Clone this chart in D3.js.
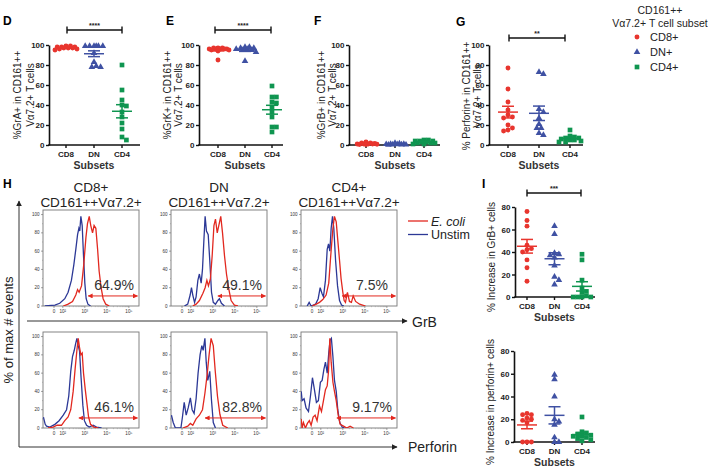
<!DOCTYPE html>
<html><head><meta charset="utf-8">
<script src="https://cdn.jsdelivr.net/npm/d3@7"></script>
<style>
body{margin:0;background:#fff;}
svg{display:block;font-family:Arial,"Liberation Sans",Helvetica,sans-serif;}
</style></head><body>
<svg id="c" width="708" height="469"></svg>
<script>
// ---------- DATA ----------
const subsets = ["CD8", "DN", "CD4"];
const legendSubsets = ["CD8+", "DN+", "CD4+"];
const ticks100 = [0, 20, 40, 60, 80, 100];
const ticks80 = [0, 20, 40, 60, 80];

// D: %GrA+
const graCD8 = [98, 97, 99, 96, 98, 97, 95, 99, 98, 96, 97];
const graDN  = [99, 99, 99, 99, 99, 99, 92, 83, 78, 78, 79];
const graCD4 = [80, 55, 45, 40, 39, 33, 28, 22, 16, 5, 8];
// E: %GrK+
const grkCD8 = [97, 96, 95, 96, 97, 95, 96, 94, 96, 97, 85, 96];
const grkDN  = [98, 97, 97, 98, 96, 95, 96, 93, 95, 84];
const grkCD4 = [59, 48, 48, 42, 43, 38, 33, 28, 18, 18, 13];
// F: %GrB+
const grbCD8 = [1, 2, 0.5, 1, 3, 1, 0.5, 2, 1, 1.5, 0.8];
const grbDN  = [0.5, 1, 0.3, 1.5, 0.8, 0.2, 1, 0.5, 2, 0.6];
const grbCD4 = [3, 4, 2, 5, 1, 4, 3, 2, 5, 1, 4, 2];
// G: %Perforin+
const perfCD8 = [77, 56, 43, 35, 30, 28, 27, 20, 17, 14, 15];
const perfDN  = [73, 71, 36, 33, 27, 21, 17, 17, 12, 10];
const perfCD4 = [15, 9, 8, 7, 7, 6, 5, 5, 4, 3, 3];
// I: % increase
const incGrbCD8 = [76, 68, 63, 46, 43, 42, 40, 33, 26, 14];
const incGrbDN  = [63, 56, 39, 38, 37, 35, 28, 18, 15, 11];
const incGrbCD4 = [38, 33, 15, 8, 5, 4, 1, 0, 0, 0, 0];
const incPerfCD8 = [25, 24, 24, 21, 20, 19, 17, 0, 0, 0];
const incPerfDN  = [59, 55, 40, 20, 18, 15, 4, 0, 0];
const incPerfCD4 = [22, 9, 8, 7, 6, 5, 5, 4, 3, 2, 1];

// H: histograms, [log10 position, % of max]
const hGrbCD8Ecoli = [[2.02,0],[2.24,2],[2.44,5],[2.59,12],[2.67,18],[2.74,15],[2.85,22],[2.95,45],[3.05,75],[3.12,90],[3.20,98],[3.27,88],[3.35,80],[3.42,88],[3.50,85],[3.58,62],[3.65,38],[3.74,20],[3.83,8],[3.95,2],[4.11,0]];
const hGrbCD8Unstim = [[1.18,0],[1.64,1],[1.86,3],[2.09,8],[2.24,15],[2.39,28],[2.50,45],[2.59,62],[2.67,78],[2.73,85],[2.77,82],[2.82,98],[2.88,88],[2.94,55],[3.00,25],[3.06,8],[3.14,2],[3.26,0]];
const hGrbDNEcoli = [[2.09,0],[2.24,2],[2.39,6],[2.55,14],[2.65,20],[2.73,28],[2.80,22],[2.89,30],[2.97,55],[3.05,88],[3.12,95],[3.20,80],[3.27,88],[3.36,98],[3.44,80],[3.53,55],[3.62,35],[3.73,18],[3.83,6],[3.98,1],[4.14,0]];
const hGrbDNUnstim = [[1.71,0],[1.86,2],[1.97,12],[2.03,20],[2.09,12],[2.17,4],[2.24,10],[2.32,28],[2.39,35],[2.47,25],[2.53,40],[2.59,70],[2.65,98],[2.71,82],[2.79,78],[2.86,50],[2.94,15],[3.02,4],[3.12,2],[3.23,6],[3.30,8],[3.39,3],[3.53,0]];
const hGrbCD4Ecoli = [[1.61,0],[1.79,2],[1.94,4],[2.09,7],[2.24,12],[2.36,25],[2.45,55],[2.55,85],[2.62,98],[2.70,92],[2.77,72],[2.85,50],[2.92,30],[3.00,15],[3.06,6],[3.12,4],[3.21,15],[3.30,5],[3.39,4],[3.47,11],[3.58,5],[3.76,2],[4.03,0]];
const hGrbCD4Unstim = [[1.38,0],[1.47,4],[1.56,0],[1.76,2],[1.88,8],[1.97,20],[2.05,14],[2.12,10],[2.21,28],[2.29,62],[2.35,68],[2.41,60],[2.47,85],[2.53,98],[2.59,85],[2.67,50],[2.76,22],[2.85,6],[2.94,1],[3.05,0]];
const hPerfCD8Ecoli = [[1.33,0],[1.56,1],[1.74,3],[1.94,3],[2.09,8],[2.24,12],[2.36,20],[2.47,40],[2.56,65],[2.64,85],[2.70,98],[2.76,88],[2.82,80],[2.88,82],[2.94,60],[3.02,42],[3.09,28],[3.17,12],[3.26,4],[3.41,1],[3.61,0]];
const hPerfCD8Unstim = [[1.12,12],[1.2,4],[1.26,2],[1.41,1],[1.64,4],[1.83,8],[2.02,14],[2.17,20],[2.27,35],[2.36,62],[2.44,78],[2.52,85],[2.58,92],[2.64,98],[2.70,90],[2.76,84],[2.83,55],[2.91,25],[2.98,8],[3.08,3],[3.20,1],[3.38,3],[3.53,1],[3.76,0]];
const hPerfDNEcoli = [[1.64,0],[1.86,2],[1.98,5],[2.09,3],[2.24,10],[2.39,14],[2.53,20],[2.64,38],[2.74,58],[2.83,80],[2.92,98],[3.02,90],[3.11,62],[3.21,35],[3.32,15],[3.45,3],[3.68,0]];
const hPerfDNUnstim = [[1.12,14],[1.2,6],[1.3,0],[1.55,0],[1.62,12],[1.70,28],[1.79,14],[1.88,22],[1.98,33],[2.06,20],[2.15,16],[2.24,32],[2.33,60],[2.42,80],[2.50,90],[2.56,85],[2.64,98],[2.70,72],[2.77,52],[2.86,62],[2.94,30],[3.02,6],[3.12,0]];
const hPerfCD4Ecoli = [[1.11,10],[1.15,0],[1.21,6],[1.30,0],[1.39,5],[1.48,8],[1.56,3],[1.65,12],[1.74,14],[1.83,8],[1.94,24],[2.03,18],[2.12,30],[2.21,42],[2.29,46],[2.35,62],[2.41,98],[2.47,72],[2.55,50],[2.62,40],[2.70,30],[2.79,14],[2.88,4],[3.03,2],[3.18,0],[3.33,2],[3.48,0]];
const hPerfCD4Unstim = [[1.11,40],[1.15,30],[1.24,32],[1.33,22],[1.44,18],[1.53,35],[1.62,55],[1.71,42],[1.80,28],[1.89,30],[1.98,50],[2.06,52],[2.14,64],[2.21,72],[2.29,60],[2.36,82],[2.42,96],[2.48,98],[2.55,78],[2.62,52],[2.70,40],[2.77,20],[2.86,6],[2.97,1],[3.08,0]];

const histTitles = [["CD8+", "CD161++V\u03b17.2+"], ["DN", "CD161++V\u03b17.2+"], ["CD4+", "CD161++V\u03b17.2+"]];
const grbPct = ["64.9%", "49.1%", "7.5%"];
const perfPct = ["46.1%", "82.8%", "9.17%"];
const grbGate = [3.15, 3.23, 2.97];
const perfGate = [2.73, 2.65, 2.73];
const histXTicks = [[1.6, "0"], [2, "10\u00b2"], [3, "10\u00b3"], [4, "10\u2074"], [5, "10\u2075"]];

// ---------- STYLE ----------
const svg = d3.select("#c");
const RED = "#e8352e", BLUE = "#3f51a3", GREEN = "#0f9550";
const HRED = "#e2281f", HBLUE = "#2c3896";
const gColors = [RED, BLUE, GREEN];
const gShapes = [d3.symbolCircle, d3.symbolTriangle, d3.symbolSquare];
const gSizes = [19, 19, 22];

// beeswarm-like horizontal spread limited to +/- maxSpread
function swarm(ys, d, maxSpread) {
  const order = d3.range(ys.length).sort((a, b) => ys[a] - ys[b]);
  const placed = [], xs = [];
  const step = d * 0.5;
  const cands = [0];
  for (let k = 1; k * step <= maxSpread; k++) { cands.push(k * step, -k * step); }
  order.forEach(i => {
    let best = null, bestScore = -1;
    for (const off of cands) {
      const md = placed.length ? d3.min(placed, p => Math.hypot(p[0] - off, p[1] - ys[i])) : Infinity;
      if (md >= d) { best = off; break; }
      if (md > bestScore) { bestScore = md; best = off; }
    }
    xs[i] = best; placed.push([best, ys[i]]);
  });
  return xs;
}

function dotPanel(cfg) {
  const g = svg.append("g");
  const y = d3.scaleLinear().domain([0, cfg.max]).range([cfg.yBot, cfg.yTop]);
  const x = d3.scalePoint().domain(subsets).range(cfg.cats);
  const ya = g.append("g").attr("transform", `translate(${cfg.x0},0)`)
    .call(d3.axisLeft(y).tickValues(cfg.ticks).tickSize(3).tickSizeOuter(0).tickPadding(1.5));
  ya.select(".domain").attr("stroke-width", 1.6).attr("stroke", "#111");
  ya.selectAll(".tick line").attr("stroke-width", 1.4).attr("stroke", "#111");
  ya.selectAll("text").attr("font-size", 8).attr("font-weight", "bold").attr("fill", "#222");
  // x axis
  g.append("line").attr("x1", cfg.x0 - 0.8).attr("x2", cfg.x1).attr("y1", cfg.yBot).attr("y2", cfg.yBot)
    .attr("stroke", "#111").attr("stroke-width", 1.6);
  subsets.forEach(s => {
    g.append("line").attr("x1", x(s)).attr("x2", x(s)).attr("y1", cfg.yBot).attr("y2", cfg.yBot + 3)
      .attr("stroke", "#111").attr("stroke-width", 1.4);
    g.append("text").attr("x", x(s)).attr("y", cfg.yBot + 12).attr("text-anchor", "middle")
      .attr("font-size", 8).attr("font-weight", "bold").attr("fill", "#222").text(s);
  });
  g.append("text").attr("x", (cfg.cats[0] + cfg.cats[1]) / 2).attr("y", cfg.yBot + 24)
    .attr("text-anchor", "middle").attr("font-size", 10.5).attr("font-weight", "bold").attr("fill", "#333").text("Subsets");
  // y title
  cfg.title.forEach((t, i) => {
    g.append("text").attr("transform", `translate(${cfg.titleX[i]},${cfg.titleY}) rotate(-90)`)
      .attr("text-anchor", "middle").attr("font-size", 10).attr("fill", "#222").text(t);
  });
  // series
  cfg.series.forEach((vals, gi) => {
    const cx = x(subsets[gi]);
    const ys = vals.map(v => y(v));
    const xs = swarm(ys, 4.4, 11);
    const col = gColors[gi];
    const sym = d3.symbol().type(gShapes[gi]).size(gSizes[gi]);
    g.selectAll(null).data(vals).join("path")
      .attr("d", sym).attr("fill", col)
      .attr("transform", (d, i) => `translate(${cx + xs[i]},${ys[i]})`);
    const m = d3.mean(vals), sem = d3.deviation(vals) / Math.sqrt(vals.length);
    g.append("line").attr("x1", cx - 10).attr("x2", cx + 10).attr("y1", y(m)).attr("y2", y(m)).attr("stroke", col).attr("stroke-width", 1.5);
    g.append("line").attr("x1", cx).attr("x2", cx).attr("y1", y(m - sem)).attr("y2", y(m + sem)).attr("stroke", col).attr("stroke-width", 1.5);
    [m - sem, m + sem].forEach(v => g.append("line").attr("x1", cx - 6).attr("x2", cx + 6).attr("y1", y(v)).attr("y2", y(v)).attr("stroke", col).attr("stroke-width", 1.5));
  });
  if (cfg.sig) {
    const [a, b, yy, stars] = cfg.sig;
    g.append("line").attr("x1", a).attr("x2", b).attr("y1", yy).attr("y2", yy).attr("stroke", "#111").attr("stroke-width", 1.6);
    [a, b].forEach(xx => g.append("line").attr("x1", xx).attr("x2", xx).attr("y1", yy - 3.5).attr("y2", yy + 3.5).attr("stroke", "#111").attr("stroke-width", 1.4));
    g.append("text").attr("x", (a + b) / 2).attr("y", yy - 2).attr("text-anchor", "middle").attr("font-size", 7).attr("font-weight", "bold").attr("fill", "#222").text(stars);
  }
  if (cfg.letter) {
    svg.append("text").attr("x", cfg.letter[0]).attr("y", cfg.letter[1]).attr("font-size", 12).attr("font-weight", "bold").text(cfg.letter[2]);
  }
}

dotPanel({x0: 49, x1: 140, cats: [66, 122], yTop: 45, yBot: 145, max: 100, ticks: ticks100,
  series: [graCD8, graDN, graCD4], title: ["%GrA+ in CD161++", "V\u03b17.2+ T cells"], titleX: [21, 34], titleY: 95,
  sig: [67, 122, 30, "****"], letter: [3, 25, "D"]});
dotPanel({x0: 199, x1: 283, cats: [218, 272], yTop: 45, yBot: 145, max: 100, ticks: ticks100,
  series: [grkCD8, grkDN, grkCD4], title: ["%GrK+ in CD161++", "V\u03b17.2+ T cells"], titleX: [171, 182], titleY: 95,
  sig: [215, 271, 30, "****"], letter: [166, 25, "E"]});
dotPanel({x0: 349, x1: 440, cats: [366, 424], yTop: 45, yBot: 145, max: 100, ticks: ticks100,
  series: [grbCD8, grbDN, grbCD4], title: ["%GrB+ in CD161++", "V\u03b17.2+ T cells"], titleX: [325, 336], titleY: 95,
  letter: [314, 25, "F"]});
dotPanel({x0: 489, x1: 583, cats: [508, 570], yTop: 45, yBot: 145, max: 100, ticks: ticks100,
  series: [perfCD8, perfDN, perfCD4], title: ["% Perforin+ in CD161++", "V\u03b17.2+ T cells"], titleX: [470, 481], titleY: 96,
  sig: [509, 565, 38, "**"], letter: [456, 26, "G"]});
dotPanel({x0: 515, x1: 595, cats: [527, 582], yTop: 207, yBot: 297, max: 80, ticks: ticks80,
  series: [incGrbCD8, incGrbDN, incGrbCD4], title: ["% Increase in GrB+ cells"], titleX: [495], titleY: 257,
  sig: [527, 581, 193, "***"], letter: [482, 188, "I"]});
dotPanel({x0: 514, x1: 595, cats: [527, 582], yTop: 351, yBot: 442, max: 80, ticks: ticks80,
  series: [incPerfCD8, incPerfDN, incPerfCD4], title: ["% Increase in perforin+ cells"], titleX: [494], titleY: 402});

// legend (top right)
const lg = svg.append("g");
lg.append("text").attr("x", 660).attr("y", 14).attr("text-anchor", "middle").attr("font-size", 10.5).attr("fill", "#222").text("CD161++");
lg.append("text").attr("x", 660).attr("y", 27).attr("text-anchor", "middle").attr("font-size", 10.5).attr("fill", "#222").text("V\u03b17.2+ T cell subset");
legendSubsets.forEach((s, i) => {
  const yy = 37 + i * 15;
  lg.append("path").attr("d", d3.symbol().type(gShapes[i]).size(gSizes[i])()).attr("fill", gColors[i]).attr("transform", `translate(637,${yy})`);
  lg.append("text").attr("x", 650).attr("y", yy + 4).attr("font-size", 11).attr("fill", "#222").text(s);
});

// ---------- H: histograms ----------
svg.append("text").attr("x", 3).attr("y", 188).attr("font-size", 12).attr("font-weight", "bold").text("H");
const defs = svg.append("defs");
defs.append("marker").attr("id", "ra").attr("viewBox", "0 0 10 10").attr("refX", 9).attr("refY", 5)
  .attr("markerWidth", 5).attr("markerHeight", 5).attr("orient", "auto-start-reverse")
  .append("path").attr("d", "M0,0L10,5L0,10z").attr("fill", HRED);
defs.append("marker").attr("id", "ka").attr("viewBox", "0 0 10 10").attr("refX", 9).attr("refY", 5)
  .attr("markerWidth", 6).attr("markerHeight", 6).attr("orient", "auto")
  .append("path").attr("d", "M0,0L10,5L0,10z").attr("fill", "#222");

const colX = [43, 171, 301], rowY = [210, 332], bw = 96, bh = 96;
const hx = d3.scaleLinear().domain([1.1, 5.46]).range([0, bw]);
const hy = d3.scaleLinear().domain([0, 105]).range([bh, 0]);
const hline = d3.line().x(d => hx(d[0])).y(d => hy(d[1]));
const hists = [
  [[hGrbCD8Ecoli, hGrbCD8Unstim], [hGrbDNEcoli, hGrbDNUnstim], [hGrbCD4Ecoli, hGrbCD4Unstim]],
  [[hPerfCD8Ecoli, hPerfCD8Unstim], [hPerfDNEcoli, hPerfDNUnstim], [hPerfCD4Ecoli, hPerfCD4Unstim]]
];
const pcts = [grbPct, perfPct], gates = [grbGate, perfGate];

histTitles.forEach((t, c) => {
  const cx = colX[c] + bw / 2;
  svg.append("text").attr("x", cx).attr("y", 192).attr("text-anchor", "middle").attr("font-size", 13.5).attr("fill", "#222").text(t[0]);
  svg.append("text").attr("x", cx).attr("y", 207).attr("text-anchor", "middle").attr("font-size", 13.5).attr("fill", "#222").text(t[1]);
});

rowY.forEach((ry, r) => {
  colX.forEach((cx, c) => {
    const g = svg.append("g").attr("transform", `translate(${cx},${ry})`);
    const clipId = `clip${r}${c}`;
    defs.append("clipPath").attr("id", clipId).append("rect").attr("x", 0).attr("y", -2).attr("width", bw).attr("height", bh + 2);
    g.append("rect").attr("width", bw).attr("height", bh).attr("fill", "none").attr("stroke", "#777").attr("stroke-width", 0.9);
    // y ticks
    ticks100.forEach(v => {
      g.append("line").attr("x1", -2).attr("x2", 0).attr("y1", hy(v)).attr("y2", hy(v)).attr("stroke", "#666").attr("stroke-width", 0.6);
      g.append("text").attr("x", -3.5).attr("y", hy(v) + 1.6).attr("text-anchor", "end").attr("font-size", 4.5).attr("fill", "#333").text(v);
    });
    d3.range(10, 100, 20).forEach(v => g.append("line").attr("x1", -1).attr("x2", 0).attr("y1", hy(v)).attr("y2", hy(v)).attr("stroke", "#888").attr("stroke-width", 0.5));
    // x ticks
    histXTicks.forEach(([u, lab]) => {
      g.append("line").attr("x1", hx(u)).attr("x2", hx(u)).attr("y1", bh).attr("y2", bh + 2).attr("stroke", "#666").attr("stroke-width", 0.6);
      g.append("text").attr("x", hx(u)).attr("y", bh + 7).attr("text-anchor", "middle").attr("font-size", 4.6).attr("fill", "#333").text(lab);
    });
    [2, 3, 4].forEach(dec => d3.range(2, 10).forEach(k => {
      const u = dec + Math.log10(k);
      g.append("line").attr("x1", hx(u)).attr("x2", hx(u)).attr("y1", bh).attr("y2", bh + 1.2).attr("stroke", "#888").attr("stroke-width", 0.4);
    }));
    const [ecoli, unstim] = hists[r][c];
    const cg = g.append("g").attr("clip-path", `url(#${clipId})`);
    cg.append("path").attr("d", hline(unstim)).attr("fill", "none").attr("stroke", HBLUE).attr("stroke-width", 1.3);
    cg.append("path").attr("d", hline(ecoli)).attr("fill", "none").attr("stroke", HRED).attr("stroke-width", 1.3);
    // gate
    g.append("line").attr("x1", hx(gates[r][c])).attr("x2", bw - 1.5).attr("y1", hy(11)).attr("y2", hy(11))
      .attr("stroke", HRED).attr("stroke-width", 1).attr("marker-start", "url(#ra)").attr("marker-end", "url(#ra)");
    g.append("text").attr("x", bw * 0.74).attr("y", hy(17)).attr("text-anchor", "middle").attr("font-size", 14).attr("fill", "#333").text(pcts[r][c]);
  });
});

// H legend
[["E. coli", HRED, true], ["Unstim", HBLUE, false]].forEach(([t, col, it], i) => {
  const yy = 221 + i * 13.5;
  svg.append("line").attr("x1", 408).attr("x2", 428).attr("y1", yy).attr("y2", yy).attr("stroke", col).attr("stroke-width", 1.3);
  svg.append("text").attr("x", 431).attr("y", yy + 4.5).attr("font-size", 12.5).attr("fill", "#222").attr("font-style", it ? "italic" : "normal").text(t);
});

// big axes
svg.append("line").attr("x1", 27).attr("x2", 407).attr("y1", 321).attr("y2", 321).attr("stroke", "#333").attr("stroke-width", 1).attr("marker-end", "url(#ka)");
svg.append("text").attr("x", 412).attr("y", 327).attr("font-size", 14).attr("fill", "#222").text("GrB");
svg.append("path").attr("d", "M19,447H397").attr("fill", "none").attr("stroke", "#333").attr("stroke-width", 1).attr("marker-end", "url(#ka)");
svg.append("path").attr("d", "M19,447V201").attr("fill", "none").attr("stroke", "#333").attr("stroke-width", 1).attr("marker-end", "url(#ka)");
svg.append("text").attr("x", 408).attr("y", 452).attr("font-size", 14).attr("fill", "#222").text("Perforin");
svg.append("text").attr("transform", "translate(13,330) rotate(-90)").attr("text-anchor", "middle").attr("font-size", 13).attr("fill", "#222").text("% of max # events");
</script>
</body></html>
